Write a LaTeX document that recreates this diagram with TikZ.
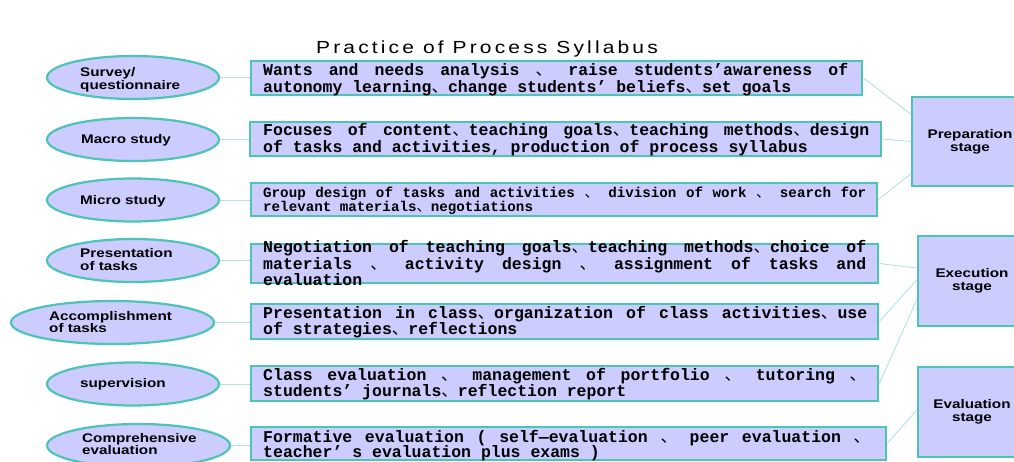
\documentclass[tikz,border=0pt]{standalone}
\usepackage{fontspec}
\setmainfont{Liberation Sans}
\newfontfamily\ttl[FakeStretch=1.2,LetterSpace=18]{Liberation Sans}
\newfontfamily\lbl[FakeStretch=1.22]{Liberation Sans}
\newfontfamily\mono{Liberation Mono}
\newfontfamily\cjk{Noto Sans CJK SC}
\usetikzlibrary{shapes.geometric}
\definecolor{fillc}{HTML}{CCCCFF}
\definecolor{bord}{HTML}{4CC4B6}
\definecolor{conn}{HTML}{B2E2E4}
\newcommand{\dn}{{\cjk\mdseries 、}}
\newcommand{\jl}[2]{\makebox[#1][s]{\spaceskip=0.6em plus 1fill\relax #2}}
\newcommand{\monofont}[2]{\mono\bfseries\fontsize{#1}{#2}\selectfont\frenchspacing\spaceskip=0.6em\relax}
\newcommand{\mlines}[1]{\vtop{\halign{##\hfil\cr#1\crcr}}}
\begin{document}
\begin{tikzpicture}[x=1pt,y=-1pt,
  ell/.style={ellipse, draw=bord, line width=2.2pt, fill=fillc, inner sep=0pt},
  box/.style={rectangle, draw=bord, line width=2.6pt, fill=fillc, inner sep=0pt},
  stg/.style={box, font=\lbl\bfseries\fontsize{12.5}{13}\selectfont, align=center},
  etxt/.style={anchor=base west, inner sep=0pt, text width=160pt, align=left, font=\lbl\bfseries\fontsize{12.5}{12.5}\selectfont},
  mtxt/.style={anchor=base west, inner sep=0pt, font=\monofont{16.5}{15.5}},
  link/.style={draw=conn, line width=0.9pt}]
\useasboundingbox (0,0) rectangle (1014,462);
\clip (0,0) rectangle (1014,462);

\node[font=\ttl\fontsize{17.5}{20}\selectfont, anchor=base] (title) at (487,54) {Practice of Process Syllabus};

% ellipses
\node[ell, minimum width=172pt, minimum height=43pt] (e1) at (133,77.5) {};
\node[ell, minimum width=172pt, minimum height=43pt] (e2) at (133,139.5) {};
\node[ell, minimum width=172pt, minimum height=43pt] (e3) at (133,200) {};
\node[ell, minimum width=172pt, minimum height=43pt] (e4) at (133,260.5) {};
\node[ell, minimum width=203pt, minimum height=43pt] (e5) at (112.5,322.5) {};
\node[ell, minimum width=172pt, minimum height=43pt] (e6) at (133,384) {};
\node[ell, minimum width=183pt, minimum height=43pt] (e7) at (138.5,445.5) {};

\node[etxt] (e1t) at (80,77) {Survey/\\questionnaire};
\node[etxt] (e2t) at (81,144) {Macro study};
\node[etxt] (e3t) at (80,205) {Micro study};
\node[etxt] (e4t) at (80,258) {Presentation\\of tasks};
\node[etxt] (e5t) at (49,320) {Accomplishment\\of tasks};
\node[etxt] (e6t) at (80,387) {supervision};
\node[etxt] (e7t) at (82,442) {Comprehensive\\evaluation};

% rectangles
\node[box, minimum width=611pt, minimum height=34pt] (r1) at (556.5,78) {};
\node[box, minimum width=631pt, minimum height=34pt] (r2) at (565.5,139) {};
\node[box, minimum width=626pt, minimum height=33pt] (r3) at (564,199.5) {};
\node[box, minimum width=627pt, minimum height=39pt] (r4) at (564.5,263.5) {};
\node[box, minimum width=627pt, minimum height=35pt] (r5) at (564.5,321.5) {};
\node[box, minimum width=627pt, minimum height=35pt] (r6) at (564.5,383.5) {};
\node[box, minimum width=635pt, minimum height=33pt] (r7) at (568.5,443.5) {};

\node[mtxt] (t1) at (263,76) {\mlines{\jl{585pt}{Wants and needs analysis \dn{} raise students’awareness of}\cr autonomy learning\dn change students’ beliefs\dn set goals}};
\node[mtxt] (t2) at (263,136) {\mlines{\jl{606pt}{Focuses of content\dn teaching goals\dn teaching methods\dn design}\cr of tasks and activities, production of process syllabus}};
\node[mtxt, font=\monofont{14.2}{14}] (t3) at (263,198) {\mlines{\jl{603pt}{Group design of tasks and activities \dn{} division of work \dn{} search for}\cr relevant materials\dn negotiations}};
\node[mtxt] (t4) at (263,253) {\mlines{\jl{603pt}{Negotiation of teaching goals\dn teaching methods\dn choice of}\cr\jl{603pt}{materials \dn{} activity design \dn{} assignment of tasks and}\cr evaluation}};
\node[mtxt] (t5) at (263,318) {\mlines{\jl{604pt}{Presentation in class\dn organization of class activities\dn use}\cr of strategies\dn reflections}};
\node[mtxt] (t6) at (263,380) {\mlines{\jl{603pt}{Class evaluation \dn{} management of portfolio \dn{} tutoring \dn}\cr students’ journals\dn reflection report}};
\node[mtxt] (t7) at (263,442) {\mlines{\jl{607pt}{Formative evaluation ( self—evaluation \dn{} peer evaluation \dn}\cr teacher’ s evaluation plus exams )}};

% stage boxes
\node[stg, minimum width=116pt, minimum height=89pt] (prep) at (970,141.5) {Preparation\\stage};
\node[stg, minimum width=108pt, minimum height=90pt] (exec) at (972,281) {Execution\\stage};
\node[stg, minimum width=108pt, minimum height=90pt] (eval) at (972,412) {Evaluation\\stage};

% connectors
\foreach \i in {1,...,7} {
  \draw[link] (e\i.east) -- (e\i.east -| r\i.west);
}
\draw[link] (r1.east) -- ([yshift=27.5pt]prep.west);
\draw[link] (r2.east) -- (prep.west);
\draw[link] (r3.east) -- ([yshift=-32.5pt]prep.west);
\draw[link] (r4.east) -- ([yshift=13pt]exec.west);
\draw[link] (r5.east) -- ([yshift=1pt]exec.west);
\draw[link] (r6.east) -- ([yshift=-19pt]exec.west);
\draw[link] (r7.east) -- ([yshift=2pt]eval.west);
\end{tikzpicture}
\end{document}
